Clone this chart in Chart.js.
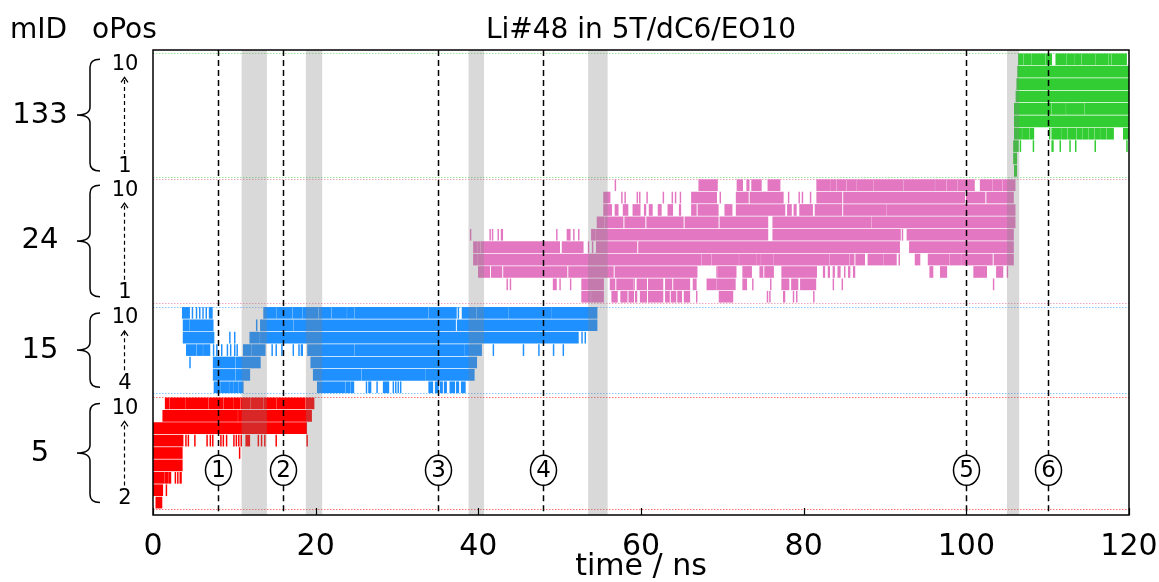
<!DOCTYPE html>
<html>
<head>
<meta charset="utf-8">
<script src="https://cdn.jsdelivr.net/npm/chart.js@4.4.1/dist/chart.umd.min.js"></script>
<style>
  html, body { margin: 0; padding: 0; background: #fff; }
</style>
</head>
<body>
<canvas id="chart" width="1159" height="582"></canvas>
<script>
// residence intervals [start, end] in ns, one entry per oPos row
const mid5Rows = [
  [10, [[1.5, 2.0], [2.1, 3.9], [4.0, 6.8], [6.9, 8.6], [8.7, 9.9], [10.0, 10.7], [10.8, 11.9], [12.0, 13.5], [13.6, 15.1], [15.2, 18.7], [18.8, 19.8]]],
  [9, [[1.2, 10.4], [10.5, 19.5]]],
  [8, [[0, 18.9]]],
  [7, [[0, 3.7], [4.0, 4.1], [4.3, 4.4], [5.1, 5.2], [6.6, 6.7], [7.0, 7.1], [7.3, 7.4], [8.3, 8.4], [8.6, 8.7], [9.0, 9.1], [9.9, 10.0], [10.2, 10.3], [10.5, 10.6], [10.8, 10.9], [11.4, 11.9], [12.9, 13.0], [13.3, 13.4], [13.7, 13.8], [15.1, 15.2], [18.9, 19.0]]],
  [6, [[0, 3.6], [10.6, 10.7]]],
  [5, [[0, 3.6]]],
  [4, [[0, 1.4], [1.5, 1.9], [2.0, 2.2], [2.7, 2.8], [3.0, 3.1], [3.3, 3.5]]],
  [3, [[0, 1.2], [1.6, 1.7]]],
  [2, [[0.35, 1.1]]],
];

const mid15Rows = [
  [10, [[3.6, 4.5], [4.8, 4.9], [5.3, 5.4], [5.7, 5.8], [6.1, 6.2], [6.5, 6.6], [6.9, 7.3], [13.6, 15.1], [15.2, 17.1], [17.2, 18.3], [18.4, 20.3], [20.4, 21.9], [22.0, 23.8], [23.9, 24.7], [24.8, 33.8], [33.9, 37.3], [37.5, 37.6], [38.0, 39.7], [39.8, 43.7], [43.8, 49.0], [49.1, 54.6]]],
  [9, [[3.7, 4.4], [4.5, 7.4], [12.7, 12.8], [13.2, 17.2], [17.3, 37.2], [37.4, 54.6]]],
  [8, [[3.7, 7.5], [9.4, 9.5], [10.0, 10.1], [11.9, 13.1], [13.2, 52.3], [52.7, 52.8], [53.1, 53.2]]],
  [7, [[4.1, 5.3], [5.4, 6.1], [6.2, 7.0], [7.4, 7.5], [7.8, 7.9], [8.4, 8.5], [9.1, 9.2], [9.5, 9.6], [10.0, 10.1], [10.3, 10.4], [11.1, 12.1], [12.2, 13.8], [14.6, 14.7], [15.1, 15.2], [15.8, 15.9], [17.2, 17.3], [17.9, 18.0], [18.2, 18.4], [19.0, 24.7], [24.8, 38.3], [38.4, 40.4], [41.8, 41.9], [45.5, 45.6], [47.4, 47.5], [49.2, 49.3], [50.4, 50.5]]],
  [6, [[4.5, 4.6], [7.4, 10.1], [10.2, 13.2], [19.4, 39.8]]],
  [5, [[7.4, 10.1], [10.2, 11.9], [19.7, 25.6], [25.7, 33.5], [33.6, 39.5]]],
  [4, [[7.5, 8.2], [8.3, 9.3], [9.4, 9.9], [10.0, 10.5], [10.6, 11.1], [20.2, 23.6], [23.7, 24.2], [24.3, 24.7], [26.2, 26.3], [26.5, 26.8], [27.5, 27.6], [28.3, 29.0], [29.5, 29.6], [29.8, 29.9], [30.1, 30.2], [30.4, 30.5], [33.9, 34.4], [34.7, 35.1], [35.3, 35.6], [35.8, 36.1], [36.5, 37.1], [37.3, 37.6], [37.9, 38.4]]],
];

const mid24Rows = [
  [10, [[56.8, 56.9], [67.1, 69.4], [71.8, 72.5], [73.0, 73.3], [73.6, 74.8], [75.6, 77.1], [81.6, 83.3], [83.4, 84.0], [84.1, 85.2], [85.3, 86.4], [86.5, 88.5], [88.6, 92.2], [92.3, 96.1], [96.2, 97.5], [97.6, 98.9], [99.0, 101.0], [101.7, 103.2], [103.3, 104.4], [104.5, 106.0]]],
  [9, [[55.4, 56.2], [57.6, 57.7], [58.0, 58.1], [59.5, 59.6], [59.8, 59.9], [60.7, 60.8], [62.7, 62.8], [63.8, 63.9], [64.2, 64.3], [64.8, 64.9], [66.2, 69.3], [69.7, 69.8], [71.7, 73.2], [73.4, 77.5], [78.1, 78.2], [79.4, 79.5], [79.8, 79.9], [80.8, 80.9], [81.6, 84.7], [84.9, 99.8], [100.0, 102.3], [102.5, 105.8]]],
  [8, [[55.4, 56.4], [56.8, 57.2], [57.8, 58.4], [59.0, 59.9], [60.4, 60.6], [61.0, 61.4], [62.1, 62.5], [63.3, 63.9], [64.7, 64.9], [66.2, 66.8], [67.0, 69.5], [70.3, 71.2], [71.7, 77.7], [78.0, 78.5], [78.8, 79.1], [79.5, 81.1], [81.4, 84.7], [84.9, 90.1], [90.2, 106.0]]],
  [7, [[54.6, 55.5], [55.6, 57.8], [58.0, 60.5], [60.7, 65.2], [65.4, 69.5], [69.7, 75.6], [76.2, 88.3], [88.4, 106.0]]],
  [6, [[39.0, 39.1], [41.4, 41.5], [41.7, 41.8], [42.4, 42.5], [42.8, 43.0], [49.6, 49.7], [50.9, 51.3], [51.7, 51.8], [52.3, 52.4], [53.9, 54.4], [54.5, 75.6], [76.2, 91.9], [92.1, 92.2], [92.7, 105.8]]],
  [5, [[39.4, 39.8], [39.9, 40.2], [40.3, 50.0], [50.3, 52.9], [53.5, 53.6], [54.0, 54.1], [54.5, 59.5], [59.7, 91.8], [93.0, 105.8]]],
  [4, [[39.4, 39.8], [39.9, 67.4], [67.5, 68.6], [68.7, 72.0], [72.1, 74.1], [74.2, 74.7], [74.8, 76.2], [76.3, 83.1], [83.2, 85.6], [85.7, 86.2], [86.4, 87.5], [87.9, 89.8], [89.9, 91.4], [91.7, 91.8], [93.7, 94.3], [95.3, 97.9], [98.0, 99.3], [99.4, 103.2], [103.4, 105.8]]],
  [3, [[40.0, 41.4], [41.6, 42.9], [43.1, 50.9], [51.1, 56.6], [56.8, 66.9], [69.3, 69.4], [69.5, 71.7], [72.5, 73.6], [74.6, 75.0], [75.2, 76.3], [77.3, 81.6], [82.4, 82.6], [83.0, 83.2], [83.6, 83.8], [84.2, 84.5], [85.0, 85.1], [85.5, 85.7], [86.1, 86.3], [95.5, 95.9], [96.8, 97.6], [100.9, 102.5], [103.7, 104.5], [105.0, 105.1]]],
  [2, [[43.5, 43.6], [43.9, 44.0], [49.2, 49.6], [50.0, 50.1], [51.3, 51.4], [52.7, 55.4], [56.2, 56.8], [57.0, 59.0], [59.1, 59.2], [59.5, 60.7], [60.9, 62.7], [63.0, 63.8], [64.0, 66.0], [66.4, 66.8], [68.1, 69.2], [69.3, 71.6], [72.5, 73.0], [73.7, 73.8], [75.9, 76.0], [77.3, 78.2], [78.5, 79.3], [79.6, 81.5], [83.6, 83.7], [84.7, 84.8], [103.3, 103.4]]],
  [1, [[52.7, 53.8], [53.9, 55.4], [56.4, 57.1], [57.5, 58.3], [58.5, 59.1], [59.3, 59.5], [59.9, 60.7], [60.9, 62.7], [63.0, 63.5], [63.7, 64.3], [64.5, 65.0], [65.3, 66.0], [66.8, 66.9], [69.6, 71.3], [75.5, 75.6], [75.8, 75.9], [77.5, 77.7], [78.7, 78.8], [79.1, 79.2], [81.2, 81.3]]],
];

const mid133Rows = [
  [10, [[106.4, 107.0], [107.1, 108.0], [108.1, 109.7], [109.8, 110.5], [111.0, 112.3], [112.4, 113.3], [113.4, 114.1], [114.2, 115.8], [115.9, 117.4], [117.5, 117.8], [117.9, 119.7]]],
  [9, [[106.3, 120]]],
  [8, [[106.2, 120]]],
  [7, [[106.1, 120]]],
  [6, [[105.9, 110.4], [110.5, 112.2], [112.3, 114.5], [114.6, 120]]],
  [5, [[105.9, 120]]],
  [4, [[105.9, 106.8], [106.9, 107.7], [107.8, 108.3], [110.2, 110.3], [110.5, 111.6], [111.7, 112.4], [112.5, 113.5], [113.6, 114.2], [114.3, 115.0], [115.1, 115.7], [115.8, 116.5], [116.6, 117.2], [117.3, 118.1], [119.3, 120]]],
  [3, [[105.8, 106.4], [106.6, 106.7], [108.2, 108.3], [110.5, 110.7], [111.5, 111.6], [112.7, 112.8], [113.4, 113.5], [115.8, 115.9], [119.7, 119.8]]],
  [2, [[105.8, 106.2]]],
  [1, [[105.9, 106.2]]],
];

const mIDs = [5, 15, 24, 133];
const mIDRows = [mid5Rows, mid15Rows, mid24Rows, mid133Rows];
const oPosRanges = [[2, 10], [4, 10], [1, 10], [1, 10]];
const mIDColors = ["#ff0000", "#1e90ff", "#e377c2", "#32cd32"];
const lineColors = ["rgba(255,0,0,0.55)", "rgba(30,144,255,0.5)", "rgba(230,80,120,0.5)", "rgba(50,205,50,0.5)"];

const eventTimes = [8, 16, 35, 48, 100, 110];
const eventLabels = ["1", "2", "3", "4", "5", "6"];
const grayWindows = [[10.9, 14.0], [18.8, 20.8], [38.8, 40.7], [53.5, 55.9], [105.0, 106.5]];
const xTicks = [0, 20, 40, 60, 80, 100, 120];

// vertical placement of each mID block on the hidden y axis (1 unit = 1 row)
const rowOffsets = [-1, 6.3, 16.6, 26.75];
const markerRow = 3.6;

Chart.defaults.font.family = "'DejaVu Sans', sans-serif";
Chart.defaults.color = "#000";

function buildDataset(i) {
  const data = [];
  for (const [opos, segs] of mIDRows[i]) {
    for (const seg of segs) {
      data.push({ y: opos + rowOffsets[i], x: seg });
    }
  }
  return {
    label: "mID " + mIDs[i],
    data: data,
    backgroundColor: mIDColors[i],
    borderWidth: 0,
    barThickness: 11,
    grouped: false,
  };
}

const bandLines = {
  id: "bandLines",
  beforeDatasetsDraw(chart) {
    const { ctx, chartArea, scales } = chart;
    ctx.save();
    ctx.lineWidth = 1;
    ctx.setLineDash([1.5, 1.5]);
    for (let i = 0; i < mIDs.length; i++) {
      const [lo, hi] = oPosRanges[i];
      ctx.strokeStyle = lineColors[i];
      for (const u of [lo - 0.5 + rowOffsets[i], hi + 0.5 + rowOffsets[i]]) {
        const y = Math.round(scales.y.getPixelForValue(u)) + 0.5;
        ctx.beginPath();
        ctx.moveTo(chartArea.left, y);
        ctx.lineTo(chartArea.right, y);
        ctx.stroke();
      }
    }
    ctx.restore();
  },
};

function drawBrace(ctx, yTop, yBot) {
  const xr = 100, xm = 90, xt = 77, r = 8;
  const ym = (yTop + yBot) / 2;
  ctx.beginPath();
  ctx.moveTo(xr, yTop);
  ctx.quadraticCurveTo(xm, yTop, xm, yTop + r);
  ctx.lineTo(xm, ym - r);
  ctx.quadraticCurveTo(xm, ym, xt, ym);
  ctx.quadraticCurveTo(xm, ym, xm, ym + r);
  ctx.lineTo(xm, yBot - r);
  ctx.quadraticCurveTo(xm, yBot, xr, yBot);
  ctx.stroke();
}

const overlay = {
  id: "overlay",
  afterDatasetsDraw(chart) {
    const { ctx, chartArea, scales } = chart;
    const x = scales.x, y = scales.y;
    ctx.save();

    // shaded windows sit over the bars
    ctx.fillStyle = "rgba(128,128,128,0.3)";
    for (const [a, b] of grayWindows) {
      const x0 = x.getPixelForValue(a), x1 = x.getPixelForValue(b);
      ctx.fillRect(x0, chartArea.top, x1 - x0, chartArea.bottom - chartArea.top);
    }

    // dashed event lines with circled numbers
    const my = y.getPixelForValue(markerRow);
    const rx = 13, ry = 15;
    for (let i = 0; i < eventTimes.length; i++) {
      const px = Math.round(x.getPixelForValue(eventTimes[i])) + 0.5;
      ctx.strokeStyle = "#000";
      ctx.lineWidth = 1.5;
      ctx.setLineDash([6, 4]);
      ctx.beginPath();
      ctx.moveTo(px, chartArea.top);
      ctx.lineTo(px, my - ry);
      ctx.moveTo(px, my + ry);
      ctx.lineTo(px, chartArea.bottom);
      ctx.stroke();
      ctx.setLineDash([]);
      ctx.fillStyle = "#fff";
      ctx.beginPath();
      ctx.ellipse(px, my, rx, ry, 0, 0, Math.PI * 2);
      ctx.fill();
      ctx.stroke();
      ctx.fillStyle = "#000";
      ctx.font = "23px 'DejaVu Sans'";
      ctx.textAlign = "center";
      ctx.textBaseline = "middle";
      ctx.fillText(eventLabels[i], px, my + 1);
    }

    // frame and inward ticks
    ctx.setLineDash([]);
    ctx.strokeStyle = "#000";
    ctx.lineWidth = 1.5;
    ctx.strokeRect(chartArea.left, chartArea.top, chartArea.right - chartArea.left, chartArea.bottom - chartArea.top);
    ctx.lineWidth = 1.2;
    for (const t of xTicks) {
      const px = Math.round(x.getPixelForValue(t)) + 0.5;
      ctx.beginPath();
      ctx.moveTo(px, chartArea.bottom);
      ctx.lineTo(px, chartArea.bottom - 7);
      ctx.stroke();
    }

    // title and header labels
    ctx.fillStyle = "#000";
    ctx.textBaseline = "alphabetic";
    ctx.font = "28px 'DejaVu Sans'";
    ctx.textAlign = "center";
    ctx.fillText("Li#48 in 5T/dC6/EO10", (chartArea.left + chartArea.right) / 2, 38);
    ctx.textAlign = "left";
    ctx.fillText("mID", 10, 38);
    ctx.fillText("oPos", 92, 38);

    // mID braces and oPos arrows on the left
    for (let i = 0; i < mIDs.length; i++) {
      const [lo, hi] = oPosRanges[i];
      const yTop = y.getPixelForValue(hi + rowOffsets[i]);
      const yBot = y.getPixelForValue(lo + rowOffsets[i]);
      ctx.strokeStyle = "#000";
      ctx.lineWidth = 1.5;
      ctx.setLineDash([]);
      drawBrace(ctx, yTop, yBot);

      ctx.font = "29px 'DejaVu Sans'";
      ctx.textAlign = "center";
      ctx.textBaseline = "middle";
      ctx.fillText(String(mIDs[i]), 40, (yTop + yBot) / 2);

      const topLab = yTop + 5, botLab = yBot - 4;
      ctx.font = "21px 'DejaVu Sans'";
      ctx.fillText(String(hi), 125, topLab);
      ctx.fillText(String(lo), 125, botLab);

      const ax = 124.5;
      ctx.lineWidth = 1.2;
      ctx.setLineDash([4, 3]);
      ctx.beginPath();
      ctx.moveTo(ax, botLab - 13);
      ctx.lineTo(ax, topLab + 14);
      ctx.stroke();
      ctx.setLineDash([]);
      ctx.beginPath();
      ctx.moveTo(ax - 3.5, topLab + 18);
      ctx.lineTo(ax, topLab + 13);
      ctx.lineTo(ax + 3.5, topLab + 18);
      ctx.stroke();
    }
    ctx.restore();
  },
};

const ctx = document.getElementById("chart");

new Chart(ctx, {
  type: "bar",
  data: {
    datasets: mIDs.map((m, i) => buildDataset(i)),
  },
  options: {
    indexAxis: "y",
    responsive: false,
    animation: false,
    devicePixelRatio: 1,
    layout: { padding: { left: 153, right: 30, top: 50, bottom: 0 } },
    plugins: { legend: { display: false }, tooltip: { enabled: false }, title: { display: false } },
    scales: {
      y: {
        type: "linear",
        display: false,
        min: 0,
        max: 37.5,
        offset: false,
      },
      x: {
        type: "linear",
        position: "bottom",
        min: 0,
        max: 120,
        offset: false,
        grid: { display: false, drawTicks: false },
        border: { display: false },
        afterBuildTicks: (scale) => {
          scale.ticks = xTicks.map((v) => ({ value: v }));
        },
        afterFit: (scale) => {
          scale.height = 67;
          scale.paddingLeft = 0;
          scale.paddingRight = 0;
        },
        ticks: {
          font: { size: 30 },
          color: "#000",
          padding: 14,
          maxRotation: 0,
          autoSkip: false,
        },
        title: {
          display: true,
          text: "time / ns",
          font: { size: 30, lineHeight: 1 },
          padding: 0,
          color: "#000",
        },
      },
    },
  },
  plugins: [bandLines, overlay],
});
</script>
</body>
</html>
